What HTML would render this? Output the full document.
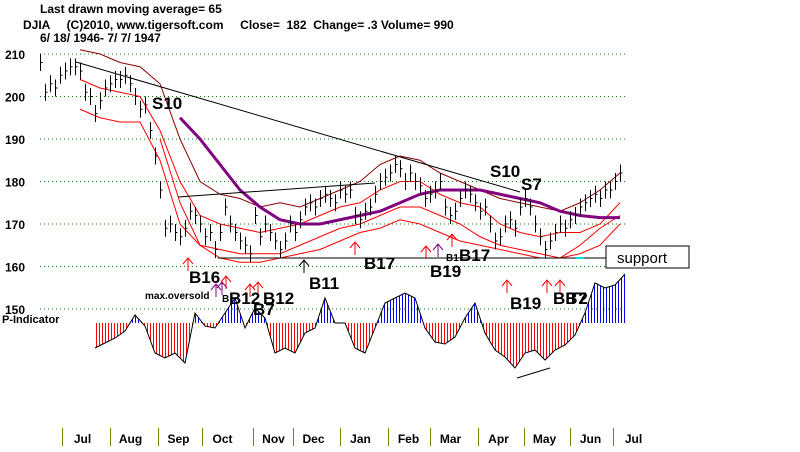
<!DOCTYPE html>
<html><head><meta charset="utf-8"><style>
body{margin:0;background:#fff}
svg{display:block}
text{font-family:"Liberation Sans",sans-serif;font-weight:bold}
</style></head><body>
<svg id="c" width="800" height="452" viewBox="0 0 800 452" xmlns="http://www.w3.org/2000/svg">
<defs>
<pattern id="pb" width="3" height="4" patternUnits="userSpaceOnUse"><rect width="1" height="4" fill="#0000ff"/></pattern>
<pattern id="pr" width="3" height="4" patternUnits="userSpaceOnUse"><rect width="1" height="4" fill="#ff0000"/></pattern>
<clipPath id="above"><rect x="0" y="0" width="800" height="323"/></clipPath>
<clipPath id="below"><rect x="0" y="323" width="800" height="129"/></clipPath>
</defs>
<text x="40" y="13" font-size="12">Last drawn moving average= 65</text>
<text x="23" y="29" font-size="12" xml:space="preserve">DJIA     (C)2010, www.tigersoft.com     Close=  182  Change= .3 Volume= 990</text>
<text x="40" y="42" font-size="12">6/ 18/ 1946- 7/ 7/ 1947</text>
<g id="grid"></g>
<g id="ylab"></g>
<g id="ind"></g>
<g id="bands"></g>
<g id="bars"></g>
<g stroke="#000" stroke-width="1" fill="none">
<line x1="76" y1="62" x2="520" y2="192"/>
<line x1="178" y1="197" x2="375" y2="183"/>
<line x1="218" y1="258" x2="606" y2="258"/>
<line x1="517" y1="378" x2="550" y2="368"/>
</g>
<line x1="576" y1="258" x2="584" y2="258" stroke="#00e0e0" stroke-width="2"/>
<g>
<rect x="606" y="246" width="83" height="22" fill="#fff" stroke="#000"/>
<text x="617" y="263" font-size="15" style="font-weight:normal">support</text>
</g>
<g id="arrows"></g>
<g font-size="17" fill="#000">
<text x="152" y="109">S10</text>
<text x="490" y="177">S10</text>
<text x="521" y="190">S7</text>
<text x="189" y="283">B16</text>
<text x="229" y="304">B12</text>
<text x="263" y="304">B12</text>
<text x="253" y="315">B7</text>
<text x="309" y="289">B11</text>
<text x="364" y="269">B17</text>
<text x="430" y="277">B19</text>
<text x="459" y="261">B17</text>
<text x="446" y="261" font-size="10">B1</text>
<text x="222" y="302" font-size="10">B</text>
<text x="510" y="309">B19</text>
<text x="553" y="304">BB7</text>
<text x="568" y="304">T2</text>
<text x="145" y="299" font-size="10">max.oversold</text>
<text x="2" y="323" font-size="11">P-Indicator</text>
</g>
<g id="months"></g>
<script>
const closes=[208,201,203,202,205,206,207,207,206,201,200,196,199,202,203,204,204,205,203,200,197,198,192,186,178,169,170,168,167,169,173,172,170,167,168,164,168,174,170,168,166,165,163,172,167,170,168,166,164,166,170,168,171,174,175,174,176,177,176,175,178,177,178,172,171,173,174,177,180,181,182,184,183,180,182,180,179,176,177,178,180,174,172,173,176,178,177,175,173,174,170,166,167,170,171,169,174,176,174,170,167,164,166,168,170,169,171,172,174,175,176,177,176,178,178,180,182];
const upperOuter=[211,210,208,207,203,190,180,177,176,174,175,174,176,178,180,184,186,185,182,180,178,176,175,174,173,175,178,182];
const upperInner=[204,202,201,200,192,180,172,170,169,168,169,170,172,174,175,178,180,180,177,175,174,170,168,167,168,168,170,175];
const lowerInner=[197,195,194,194,185,170,165,164,163,163,163,165,167,169,170,172,174,174,172,170,167,165,164,163,162,163,165,170];
const lowerOuter=[190,175,165,162,161,161,162,163,164,166,168,169,171,170,168,166,165,164,163,162,162,165,169,172];
const ma65=[195,190,184,178,174,171,170,170,171,172,173,175,177,178,178,178,177,176,175,173,172,171.5,171.5];
const pInd=[-25,-20,-15,-8,8,-3,-30,-35,-30,-40,10,-3,-5,10,25,-5,15,5,-30,-25,-30,-10,-5,25,0,0,-25,-30,-5,20,25,30,25,-5,-19,-21,-14,5,20,-10,-27,-34,-45,-30,-27,-37,-27,-22,-12,10,40,35,38,49];
const yTicks=[210,200,190,180,170,160,150];
const months=["Jul","Aug","Sep","Oct","Nov","Dec","Jan","Feb","Mar","Apr","May","Jun","Jul"];
const monthStart=[4.4,14,23.6,32.4,42.6,50.6,60,69.6,78,87.6,96.8,106,114.6];
const NS="http://www.w3.org/2000/svg";
const X=i=>40+i*5;
const Y=v=>54+(210-v)*4.25;
const PY=v=>323-v;
function mk(t,a,p){const e=document.createElementNS(NS,t);for(const k in a)e.setAttribute(k,a[k]);p.appendChild(e);return e;}
const grid=document.getElementById('grid'),ylab=document.getElementById('ylab');
yTicks.forEach(v=>{
 const l=mk('line',{x1:40,x2:628,y1:Y(v),y2:Y(v),stroke:'#008000','stroke-dasharray':'1,3'},grid);
 
 
 const t=mk('text',{x:5,y:Y(v)+5,'font-size':12},ylab);t.textContent=v;
 
 
});
const ind=document.getElementById('ind');
const pts=pInd.map((v,i)=>[95+i*10,PY(v)]);
const poly='95,323 '+pts.map(p=>p.join(',')).join(' ')+' '+(95+(pInd.length-1)*10)+',323';
const pa=mk('polygon',{points:poly,fill:'url(#pb)','clip-path':'url(#above)'},ind);


const pbz=mk('polygon',{points:poly,fill:'url(#pr)','clip-path':'url(#below)'},ind);


const pl=mk('polyline',{points:pts.map(p=>p.join(',')).join(' '),fill:'none',stroke:'#000'},ind);


const bands=document.getElementById('bands');
function band(arr,start,color,w,name){
 const p=arr.map((v,i)=>X(start+i*4)+','+Y(v)).join(' ');
 const e=mk('polyline',{points:p,fill:'none',stroke:color,'stroke-width':w},bands);
 
 
}
band(upperOuter,8,'#8b0000',1,'upper-outer-band');
band(upperInner,8,'#ff0000',1,'upper-inner-band');
band(lowerInner,8,'#ff0000',1,'lower-inner-band');
band(lowerOuter,24,'#ff0000',1,'lower-outer-band');
band(ma65,28,'#800080',3,'moving-average-65');
const bars=document.getElementById('bars');
closes.forEach((c,i)=>{
 const x=X(i)+0.5;
 const b=mk('path',{d:`M${x},${Y(c+2)}V${Y(c-2)}M${x},${Y(c)}h2`,stroke:'#000','stroke-width':1,fill:'none'},bars);
 
 
});
const arrows=document.getElementById('arrows');
[[188,258,'#f00'],[355,242,'#f00'],[426,246,'#f00'],[452,234,'#f00'],[438,244,'#800080'],[304,260,'#000'],[507,280,'#f00'],[547,280,'#f00'],[560,280,'#f00'],[216,284,'#800080'],[222,282,'#800080'],[226,276,'#f00'],[250,284,'#f00'],[258,282,'#f00']].forEach(a=>{
 const [x,y,c]=a;
 const e=mk('path',{d:`M${x},${y+13}V${y}M${x-5},${y+6}L${x},${y}L${x+5},${y+6}`,stroke:c,fill:'none'},arrows);
 
 
});
const mg=document.getElementById('months');
months.forEach((m,i)=>{
 const sx=Math.round(X(monthStart[i]))+0.5;
 const s=mk('line',{x1:sx,x2:sx,y1:428,y2:446,stroke:'#808000'},mg);
 
 
 const t=mk('text',{x:sx+20,y:443,'font-size':12,'text-anchor':'middle'},mg);t.textContent=m;
 
 
});
</script>
</svg>
</body></html>
